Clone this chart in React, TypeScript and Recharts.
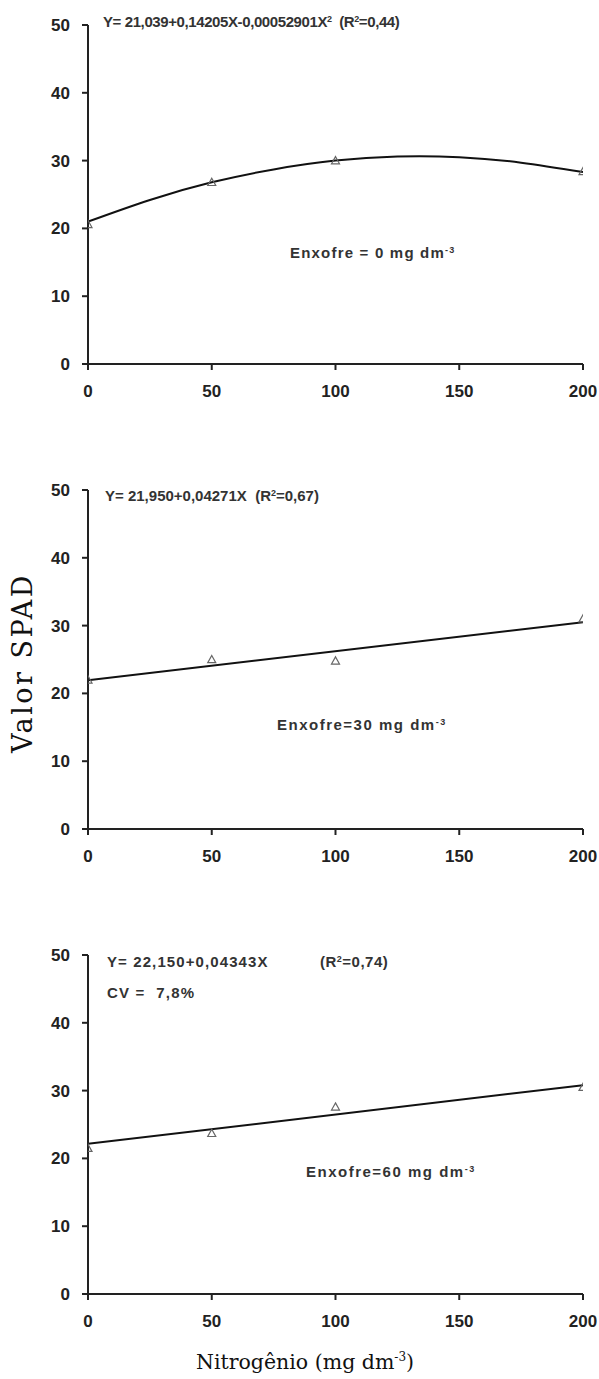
import React from 'react';
import { ComposedChart, Line, Scatter, XAxis, YAxis } from 'recharts';

const nitrogenTicks = [0, 50, 100, 150, 200];
const spadTicks = [0, 10, 20, 30, 40, 50];

const obsS0 = [
  { x: 0, y: 20.6 },
  { x: 50, y: 26.8 },
  { x: 100, y: 30.0 },
  { x: 200, y: 28.4 },
];
const fitS0 = [
  { x: 0, y: 21.0 },
  { x: 25, y: 24.2 },
  { x: 50, y: 26.8 },
  { x: 75, y: 28.7 },
  { x: 100, y: 30.0 },
  { x: 125, y: 30.6 },
  { x: 150, y: 30.5 },
  { x: 175, y: 29.7 },
  { x: 200, y: 28.3 },
];
const obsS30 = [
  { x: 0, y: 22.0 },
  { x: 50, y: 25.0 },
  { x: 100, y: 24.8 },
  { x: 200, y: 31.0 },
];
const fitS30 = [
  { x: 0, y: 21.95 },
  { x: 200, y: 30.5 },
];
const obsS60 = [
  { x: 0, y: 21.5 },
  { x: 50, y: 23.7 },
  { x: 100, y: 27.6 },
  { x: 200, y: 30.5 },
];
const fitS60 = [
  { x: 0, y: 22.15 },
  { x: 200, y: 30.8 },
];

const W = 599;
const CH = 400;
const PANEL_STEP = 465;

const axisColor = '#222';
const tickStyle = {
  fill: '#222',
  fontSize: 17,
  fontWeight: 'bold' as const,
  fontFamily: 'Liberation Sans, Arial, sans-serif',
};

const Triangle = (props: any) => {
  const { cx, cy } = props;
  if (cx == null || cy == null) return null;
  const s = 4;
  return (
    <path
      d={`M${cx},${cy - s} L${cx + s},${cy + s * 0.8} L${cx - s},${cy + s * 0.8} Z`}
      fill="none"
      stroke="#666"
      strokeWidth={1.2}
    />
  );
};

const Panel = ({ fit, obs, curve }: { fit: any[]; obs: any[]; curve: boolean }) => (
  <ComposedChart width={W} height={CH} margin={{ top: 25, right: 16, left: 0, bottom: 6 }}>
    <XAxis
      type="number"
      dataKey="x"
      domain={[0, 200]}
      ticks={nitrogenTicks}
      interval={0}
      allowDataOverflow
      height={30}
      axisLine={{ stroke: axisColor, strokeWidth: 2 }}
      tickLine={{ stroke: axisColor, strokeWidth: 2 }}
      tickSize={6}
      tickMargin={15}
      tick={tickStyle}
    />
    <YAxis
      type="number"
      dataKey="y"
      domain={[0, 50]}
      ticks={spadTicks}
      interval={0}
      width={88}
      axisLine={{ stroke: axisColor, strokeWidth: 2 }}
      tickLine={{ stroke: axisColor, strokeWidth: 2 }}
      tickSize={6}
      tickMargin={12}
      tick={tickStyle}
    />
    <Line
      data={fit}
      dataKey="y"
      type={curve ? 'natural' : 'linear'}
      stroke="#111"
      strokeWidth={2}
      dot={false}
      activeDot={false}
      isAnimationActive={false}
    />
    <Scatter data={obs} dataKey="y" shape={Triangle} isAnimationActive={false} />
  </ComposedChart>
);

const annot: React.CSSProperties = {
  position: 'absolute',
  fontFamily: 'Liberation Sans, Arial, sans-serif',
  fontSize: 15,
  fontWeight: 'bold',
  color: '#333',
  whiteSpace: 'pre',
  lineHeight: '16px',
};

const sup: React.CSSProperties = { fontSize: 9, verticalAlign: 'top', position: 'relative', top: -3 };

export default function App() {
  return (
    <div style={{ position: 'absolute', left: 0, top: 0, width: W, height: 1379, background: '#fff' }}>
      <div style={{ position: 'absolute', left: 0, top: 0 }}>
        <Panel fit={fitS0} obs={obsS0} curve />
      </div>
      <div style={{ position: 'absolute', left: 0, top: PANEL_STEP }}>
        <Panel fit={fitS30} obs={obsS30} curve={false} />
      </div>
      <div style={{ position: 'absolute', left: 0, top: PANEL_STEP * 2 }}>
        <Panel fit={fitS60} obs={obsS60} curve={false} />
      </div>

      <div style={{ ...annot, left: 103, top: 14, letterSpacing: -0.4 }}>
        Y= 21,039+0,14205X-0,00052901X<span style={sup}>2</span>{'  '}(R<span style={sup}>2</span>=0,44)
      </div>
      <div style={{ ...annot, left: 290, top: 245, letterSpacing: 1.2 }}>
        Enxofre = 0 mg dm<span style={sup}>-3</span>
      </div>

      <div style={{ ...annot, left: 105, top: 488, letterSpacing: 0 }}>
        Y= 21,950+0,04271X{'  '}(R<span style={sup}>2</span>=0,67)
      </div>
      <div style={{ ...annot, left: 277, top: 717, letterSpacing: 1.5 }}>
        Enxofre=30 mg dm<span style={sup}>-3</span>
      </div>

      <div style={{ ...annot, left: 107, top: 954, letterSpacing: 1.1 }}>Y= 22,150+0,04343X</div>
      <div style={{ ...annot, left: 320, top: 954, letterSpacing: 0.5 }}>
        (R<span style={sup}>2</span>=0,74)
      </div>
      <div style={{ ...annot, left: 107, top: 985, letterSpacing: 1.2 }}>CV =  7,8%</div>
      <div style={{ ...annot, left: 306, top: 1164, letterSpacing: 1.5 }}>
        Enxofre=60 mg dm<span style={sup}>-3</span>
      </div>

      <div
        style={{
          position: 'absolute',
          left: 22,
          top: 663,
          transform: 'translate(-50%, -50%) rotate(-90deg)',
          fontFamily: 'DejaVu Serif, serif',
          fontSize: 27,
          letterSpacing: 2.5,
          whiteSpace: 'nowrap',
          color: '#111',
        }}
      >
        Valor SPAD
      </div>
      <div
        style={{
          position: 'absolute',
          left: 305,
          top: 1362,
          transform: 'translate(-50%, -50%)',
          fontFamily: 'DejaVu Serif, serif',
          fontSize: 20.5,
          whiteSpace: 'nowrap',
          color: '#111',
        }}
      >
        Nitrogênio (mg dm<span style={{ fontSize: 12, verticalAlign: 'top' }}>-3</span>)
      </div>
    </div>
  );
}
